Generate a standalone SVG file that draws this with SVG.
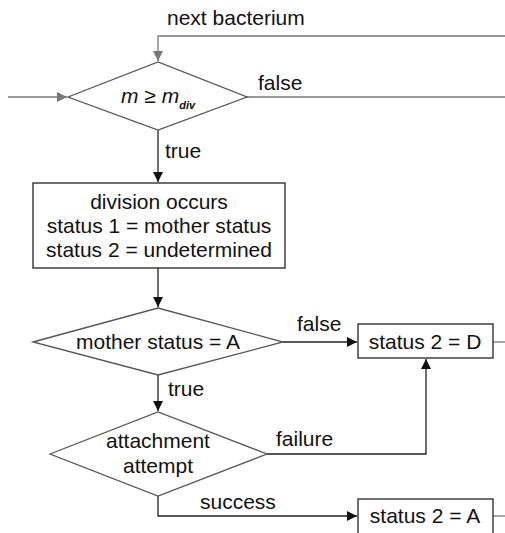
<svg xmlns="http://www.w3.org/2000/svg" width="505" height="533" viewBox="0 0 505 533">
  <style>
    .lbl { font-family: "Liberation Sans", Arial, sans-serif; font-size: 21px; fill: #111; }
    .mid { text-anchor: middle; }
    .shape { fill: #fff; stroke: #555; stroke-width: 1.3; }
    .box { fill: #fff; stroke: #222; stroke-width: 1.3; }
    .line-g { fill: none; stroke: #777; stroke-width: 1.3; }
    .line-k { fill: none; stroke: #222; stroke-width: 1.3; }
  </style>
  <defs>
    <marker id="arrG" viewBox="0 0 10 10" refX="10" refY="5" markerWidth="10" markerHeight="10" markerUnits="userSpaceOnUse" orient="auto">
      <path d="M0,0 L10,5 L0,10 z" fill="#777"/>
    </marker>
    <marker id="arrK" viewBox="0 0 10 10" refX="10" refY="5" markerWidth="10" markerHeight="10" markerUnits="userSpaceOnUse" orient="auto">
      <path d="M0,0 L10,5 L0,10 z" fill="#111"/>
    </marker>
  </defs>

  <g id="connectors">
    <!-- loop back from the right for the next bacterium -->
    <path class="line-g" d="M505,36 H158 V61" marker-end="url(#arrG)"/>
    <!-- entry from the left -->
    <path class="line-g" d="M8,97 H67" marker-end="url(#arrG)"/>
    <!-- false exit of the mass test -->
    <path class="line-g" d="M247,97 H505"/>
    <!-- true: division -->
    <path class="line-k" d="M158,130 V182" marker-end="url(#arrK)"/>
    <path class="line-k" d="M158,268 V307" marker-end="url(#arrK)"/>
    <!-- mother status false -->
    <path class="line-k" d="M283,342 H357" marker-end="url(#arrK)"/>
    <!-- mother status true -->
    <path class="line-k" d="M158,375 V411" marker-end="url(#arrK)"/>
    <!-- attachment failure -->
    <path class="line-k" d="M267,454 H426 V359" marker-end="url(#arrK)"/>
    <!-- attachment success -->
    <path class="line-k" d="M158,496 V516 H357" marker-end="url(#arrK)"/>
    <!-- outgoing stubs -->
    <path class="line-g" d="M493,342 H505"/>
    <path class="line-g" d="M493,516 H505"/>
  </g>

  <g id="edge-labels">
    <text class="lbl" x="167" y="25">next bacterium</text>
    <text class="lbl" x="258" y="90">false</text>
    <text class="lbl" x="165" y="158">true</text>
    <text class="lbl" x="297" y="331">false</text>
    <text class="lbl" x="168" y="396">true</text>
    <text class="lbl" x="276" y="446">failure</text>
    <text class="lbl" x="200" y="509">success</text>
  </g>

  <g id="test-mass">
    <polygon class="shape" points="68,97 158,62 247,97 158,130"/>
    <text class="lbl" x="121" y="103" font-style="italic">m <tspan font-style="normal">≥</tspan> m<tspan font-size="11" font-weight="bold" dy="6">div</tspan></text>
  </g>

  <g id="division">
    <rect class="box" x="33" y="183" width="252" height="85"/>
    <text class="lbl mid" x="159" y="209">division occurs</text>
    <text class="lbl mid" x="159" y="233">status 1 = mother status</text>
    <text class="lbl mid" x="159" y="257">status 2 = undetermined</text>
  </g>

  <g id="test-mother">
    <polygon class="shape" points="33,342 158,308 283,342 158,375"/>
    <text class="lbl mid" x="158" y="349">mother status = A</text>
  </g>

  <g id="status-d">
    <rect class="box" x="358" y="324" width="135" height="34"/>
    <text class="lbl mid" x="425" y="349">status 2 = D</text>
  </g>

  <g id="test-attach">
    <polygon class="shape" points="50,454 158,412 267,454 158,496"/>
    <text class="lbl mid" x="158" y="448">attachment</text>
    <text class="lbl mid" x="158" y="473">attempt</text>
  </g>

  <g id="status-a">
    <rect class="box" x="358" y="499" width="135" height="40"/>
    <text class="lbl mid" x="425" y="523">status 2 = A</text>
  </g>
</svg>
